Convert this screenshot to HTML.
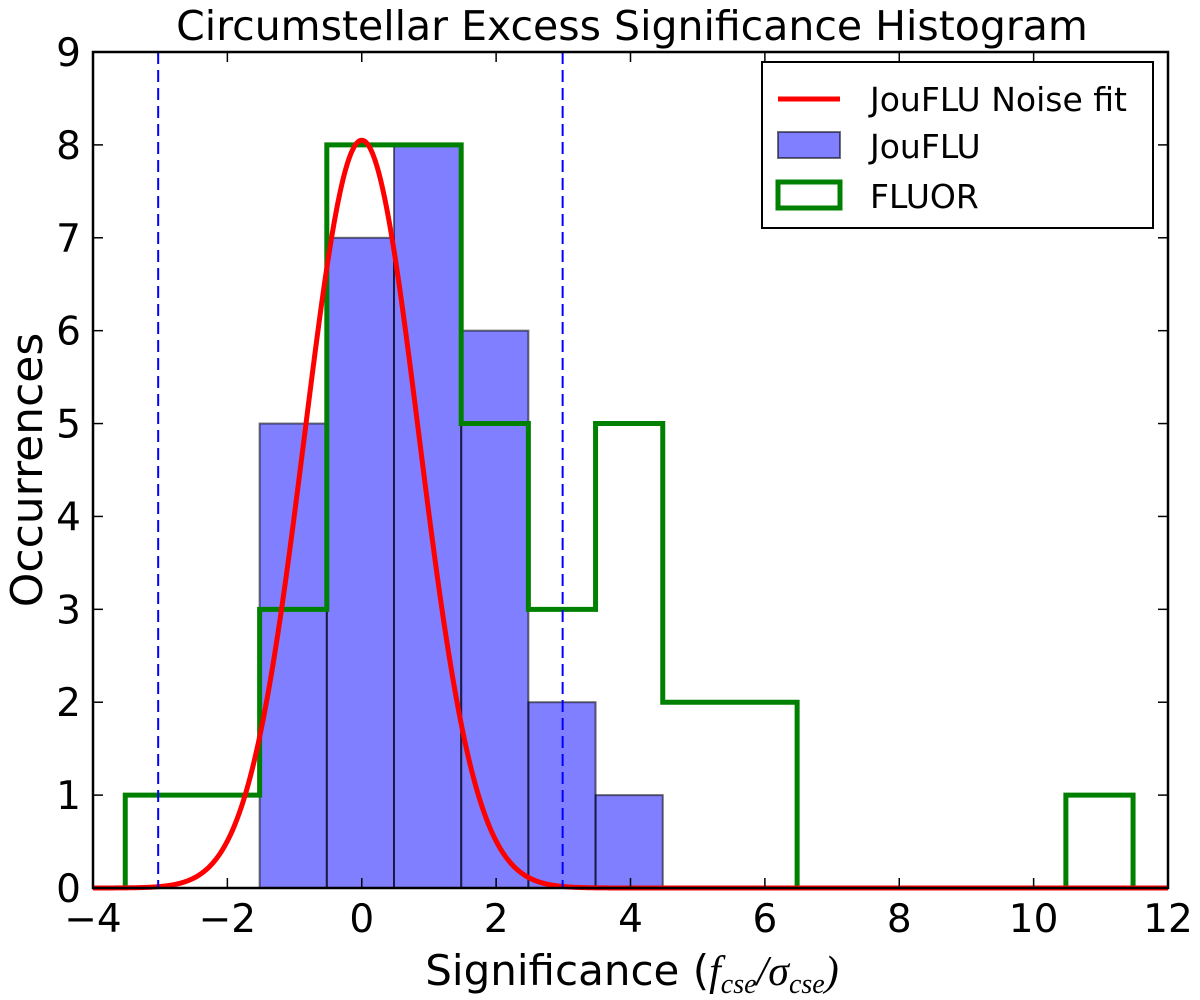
<!DOCTYPE html>
<html><head><meta charset="utf-8"><style>
body{margin:0;background:#fff;}
svg text{font-family:"DejaVu Sans","Liberation Sans",sans-serif;fill:#000;}
</style></head><body>
<svg id="chart" width="1200" height="995" xmlns="http://www.w3.org/2000/svg">
<rect width="1200" height="995" fill="#fff"/>
<g id="plot"></g>
</svg>
<script>
const xTicks=[-4,-2,0,2,4,6,8,10,12];
const yTicks=[0,1,2,3,4,5,6,7,8,9];
const joufluEdges=[-1.52,-0.52,0.48,1.48,2.48,3.48,4.48];
const joufluCounts=[5,7,8,6,2,1];
const fluorEdges=[-3.52,-2.52,-1.52,-0.52,0.48,1.48,2.48,3.48,4.48,5.48,6.48,7.48,8.48,9.48,10.48,11.48];
const fluorCounts=[1,1,3,8,8,5,3,5,2,2,0,0,0,0,1];
const fitAmp=[8.05];
const fitMu=[0.0];
const fitSigma=[0.85];
const dashLines=[-3.03,2.99];

const L=93,R=1168,T=52,B=888;
const X=v=>L+(v-(-4))/(16)*(R-L);
const Y=v=>B-v/9*(B-T);
const NS='http://www.w3.org/2000/svg';
const g=document.getElementById('plot');
function mk(tag,attrs,parent){const e=document.createElementNS(NS,tag);for(const k in attrs)e.setAttribute(k,attrs[k]);(parent||g).appendChild(e);return e;}

for(let i=0;i<joufluCounts.length;i++){
  const r=mk('rect',{x:X(joufluEdges[i]),y:Y(joufluCounts[i]),width:X(joufluEdges[i+1])-X(joufluEdges[i]),height:B-Y(joufluCounts[i]),fill:'rgba(0,0,255,0.5)',stroke:'rgba(0,0,0,0.55)','stroke-width':2});
  
  
}
let d='M'+X(fluorEdges[0])+','+B;
for(let i=0;i<fluorCounts.length;i++){d+=' L'+X(fluorEdges[i])+','+Y(fluorCounts[i])+' L'+X(fluorEdges[i+1])+','+Y(fluorCounts[i]);}
d+=' L'+X(fluorEdges[fluorEdges.length-1])+','+B;
const fp=mk('path',{d:d,fill:'none',stroke:'#008000','stroke-width':5});


let c='';
for(let k=0;k<=800;k++){const xv=-4+16*k/800;const yv=fitAmp[0]*Math.exp(-((xv-fitMu[0])**2)/(2*fitSigma[0]**2));c+=(k?' L':'M')+X(xv).toFixed(2)+','+Y(yv).toFixed(2);}
const cp=mk('path',{d:c,fill:'none',stroke:'#ff0000','stroke-width':5});


dashLines.forEach(v=>{const l=mk('line',{x1:X(v),x2:X(v),y1:T,y2:B,stroke:'#0000ff','stroke-width':2,'stroke-dasharray':'12,6'});

});
const fr=mk('rect',{x:L,y:T,width:R-L,height:B-T,fill:'none',stroke:'#000','stroke-width':2.5});


xTicks.forEach(v=>{mk('line',{x1:X(v),x2:X(v),y1:B,y2:B-10,stroke:'#000','stroke-width':1.5});mk('line',{x1:X(v),x2:X(v),y1:T,y2:T+10,stroke:'#000','stroke-width':1.5});
const t=mk('text',{x:X(v),y:B+44,'text-anchor':'middle','font-size':39});t.textContent=(v<0?'\u2212'+(-v):v);

});
yTicks.forEach(v=>{mk('line',{x1:L,x2:L+10,y1:Y(v),y2:Y(v),stroke:'#000','stroke-width':1.5});mk('line',{x1:R,x2:R-10,y1:Y(v),y2:Y(v),stroke:'#000','stroke-width':1.5});
const t=mk('text',{x:L-12,y:Y(v)+14,'text-anchor':'end','font-size':39});t.textContent=v;

});
</script>
<svg style="position:absolute;left:0;top:0" width="1200" height="995" xmlns="http://www.w3.org/2000/svg">
<text x="632" y="40" text-anchor="middle" font-size="41">Circumstellar Excess Significance Histogram</text>
<text x="632" y="985" text-anchor="middle" font-size="42">Significance (<tspan font-family="Liberation Serif" font-style="italic">f<tspan font-size="28" dy="8">cse</tspan><tspan dy="-8">/σ</tspan><tspan font-size="28" dy="8">cse</tspan><tspan dy="-8">)</tspan></tspan></text>
<text transform="translate(42,470) rotate(-90)" text-anchor="middle" font-size="44">Occurrences</text>
<g>
<rect x="762" y="62" width="391" height="166" fill="#fff" stroke="#000" stroke-width="2"/>
<line x1="778" x2="840" y1="99" y2="99" stroke="#ff0000" stroke-width="5"/>
<text x="870" y="111" font-size="33">JouFLU Noise fit</text>
<rect x="778" y="132" width="62" height="26" fill="rgba(0,0,255,0.5)" stroke="rgba(0,0,0,0.55)" stroke-width="2"/>
<text x="870" y="158" font-size="33">JouFLU</text>
<rect x="778" y="182" width="62" height="26" fill="none" stroke="#008000" stroke-width="5"/>
<text x="870" y="208" font-size="33">FLUOR</text>
</g>
</svg>
</body></html>
